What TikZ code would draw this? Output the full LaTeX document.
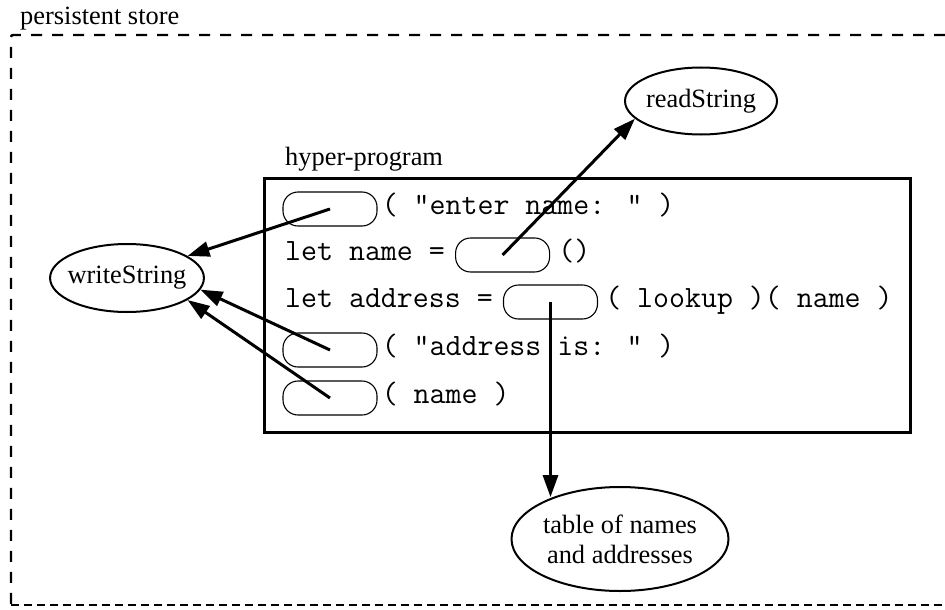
\documentclass[tikz,border=0pt]{standalone}
\usepackage{fontspec}
\setmainfont{Liberation Serif}
\usetikzlibrary{positioning,shapes.geometric,arrows.meta}

\begin{document}
\begin{tikzpicture}[x=1pt, y=-1pt,
    >={Triangle[length=22pt, width=15pt]},
    lbl/.style={font=\fontsize{26.4}{30}\selectfont, inner sep=0pt},
    func/.style={ellipse, draw, line width=2pt, inner sep=0pt, inner xsep=-5pt,
        font=\fontsize{26.4}{30}\selectfont, align=center},
    code/.style={font=\ttfamily\fontsize{31}{34}\selectfont, inner sep=0pt,
        text height=14pt, text depth=4pt},
    hole/.style={draw, line width=1.1pt, rounded corners=15pt,
        minimum width=94pt, minimum height=34pt, inner sep=0pt},
    link/.style={->, line width=3pt}]
    \useasboundingbox (0,0) rectangle (945,610);

    % persistent store
    \draw [line width=2.4pt, dash pattern=on 11pt off 10pt, rounded corners=2pt]
        (945,35) -- (11,35) -- (11,605);
    \draw [line width=1.2pt, dash pattern=on 8pt off 5pt] (11,605) -- (945,605);
    \node [lbl, anchor=base west] (ps) at (20,25) {persistent store};

    % hyper-program box
    \node [draw, line width=3pt, minimum width=646pt, minimum height=254pt] (hp) at (587,305) {};
    \node [lbl, anchor=base west] (hpl) at (285,165) {hyper-program};

    % program lines, with holes for the linked procedures
    \node [hole] (h1) at (330,209) {};
    \node [code, right=4pt of h1] (c1) {( "enter name: " )};

    \node [code, anchor=base west] (c2) at (285,260) {let name =};
    \node [hole, right=10pt of c2] (h2) {};
    \node [code, right=8pt of h2] (c2b) {()};

    \node [code, anchor=base west] (c3) at (285,307) {let address =};
    \node [hole, right=10pt of c3] (h3) {};
    \node [code, right=7pt of h3] (c3b) {( lookup )( name )};

    \node [hole] (h4) at (330,350) {};
    \node [code, right=4pt of h4] (c4) {( "address is: " )};

    \node [hole] (h5) at (330,398) {};
    \node [code, right=4pt of h5] (c5) {( name )};

    % objects in the store
    \node [func, minimum width=153pt, minimum height=68pt] (ws) at (127,278) {writeString};
    \node [func, minimum width=152pt, minimum height=67pt] (rs) at (701,101) {readString};
    \node [func, minimum width=217pt, minimum height=104pt] (tab) at (620,539) {table of names\\and addresses};

    % links
    \draw [link] (h1.center) -- (ws.20);
    \draw [link] (h2.center) -- (rs.195);
    \draw [link] (h3.center) -- (h3.center |- tab.148);
    \draw [link] (h4.center) -- (ws.-9);
    \draw [link] (h5.center) -- (ws.-20);
\end{tikzpicture}
\end{document}
